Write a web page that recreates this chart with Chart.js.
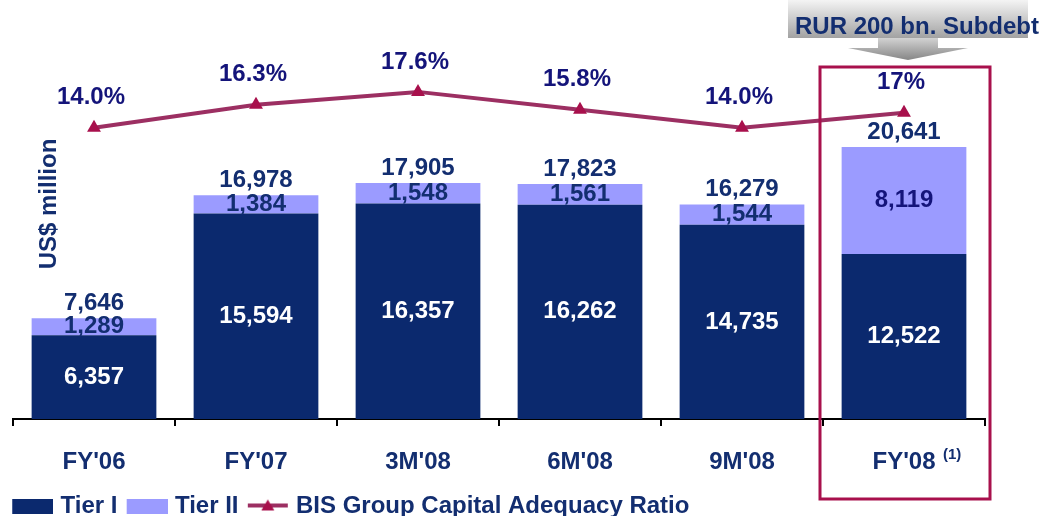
<!DOCTYPE html>
<html>
<head>
<meta charset="utf-8">
<script src="https://cdn.jsdelivr.net/npm/chart.js@4.4.1/dist/chart.umd.min.js"></script>
<style>
  body { margin: 0; background: #fff; }
  #wrap { width: 1042px; height: 516px; position: relative; }
</style>
</head>
<body>
<div id="wrap"><canvas id="chart"></canvas></div>
<script>
// data
const categories = ["FY'06", "FY'07", "3M'08", "6M'08", "9M'08", "FY'08"];
const tier1 = [6357, 15594, 16357, 16262, 14735, 12522];
const tier2 = [1289, 1384, 1548, 1561, 1544, 8119];
const bisRatio = [14.0, 16.3, 17.6, 15.8, 14.0, 15.5];
const bisLabels = ['14.0%', '16.3%', '17.6%', '15.8%', '14.0%', '17%'];

const NAVY = '#0B296E';
const TEXT = '#132E70';
const BLUE = '#14147A';
const LAVENDER = '#9B9BFF';
const LINE = '#9C2F62';
const MARKER = '#A8104C';
const FONT = '"Liberation Sans", Arial, sans-serif';

Chart.defaults.font.family = FONT;
Chart.defaults.font.weight = 'bold';
Chart.defaults.font.size = 24;
Chart.defaults.color = TEXT;

const fmt = n => n.toLocaleString('en-US');

// legend swatches, left margin keeps the gap between items
function swatch(draw) {
  const c = document.createElement('canvas');
  c.width = 51; c.height = 15;
  draw(c.getContext('2d'));
  return c;
}
const navySwatch = swatch(g => { g.fillStyle = NAVY; g.fillRect(10, 0, 41, 15); });
const lavSwatch = swatch(g => { g.fillStyle = LAVENDER; g.fillRect(10, 0, 41, 15); });
const lineSwatch = swatch(g => {
  g.fillStyle = LINE; g.fillRect(10, 5, 40, 4);
  g.fillStyle = MARKER;
  g.beginPath(); g.moveTo(30, 1); g.lineTo(36.5, 12); g.lineTo(23.5, 12); g.closePath(); g.fill();
});

const labelPlugin = {
  id: 'valueLabels',
  afterDatasetsDraw(chart) {
    const ctx = chart.ctx;
    const m1 = chart.getDatasetMeta(0);
    const m2 = chart.getDatasetMeta(1);
    const m3 = chart.getDatasetMeta(2);
    ctx.save();
    ctx.font = 'bold 24px ' + FONT;
    ctx.textAlign = 'center';
    ctx.textBaseline = 'middle';
    categories.forEach((c, i) => {
      const b1 = m1.data[i], b2 = m2.data[i], p = m3.data[i];
      ctx.fillStyle = '#fff';
      ctx.fillText(fmt(tier1[i]), b1.x, (b1.y + b1.base) / 2);
      ctx.fillStyle = i === 5 ? BLUE : TEXT;
      ctx.fillText(fmt(tier2[i]), b2.x, (b2.y + b2.base) / 2);
      ctx.fillStyle = TEXT;
      ctx.fillText(fmt(tier1[i] + tier2[i]), b2.x, b2.y - 15);
      ctx.fillStyle = BLUE;
      ctx.fillText(bisLabels[i], p.x - 3, p.y - 30);
    });
    ctx.restore();
  }
};

const decorPlugin = {
  id: 'decor',
  afterDraw(chart) {
    const ctx = chart.ctx;
    const x = chart.scales.x;
    const area = chart.chartArea;
    const cx = x.getPixelForValue(5);
    ctx.save();

    // box round FY'08
    ctx.strokeStyle = MARKER;
    ctx.lineWidth = 3;
    ctx.strokeRect(cx - 84, area.top + 17, 170, 432);

    // grey arrow banner
    const bx = cx + 4;
    const top = ctx.createLinearGradient(0, 0, 0, 38);
    top.addColorStop(0, '#f4f4f4');
    top.addColorStop(1, '#a2a2a2');
    ctx.fillStyle = top;
    ctx.fillRect(bx - 120, 0, 240, 38);
    const arrow = ctx.createLinearGradient(0, 38, 0, 60);
    arrow.addColorStop(0, '#d2d2d2');
    arrow.addColorStop(1, '#868686');
    ctx.fillStyle = arrow;
    ctx.beginPath();
    ctx.moveTo(bx - 30, 38); ctx.lineTo(bx + 30, 38); ctx.lineTo(bx + 30, 48);
    ctx.lineTo(bx + 60, 48); ctx.lineTo(bx, 60); ctx.lineTo(bx - 60, 48);
    ctx.lineTo(bx - 30, 48); ctx.closePath();
    ctx.fill();
    ctx.fillStyle = TEXT;
    ctx.font = 'bold 24px ' + FONT;
    ctx.textAlign = 'center';
    ctx.textBaseline = 'middle';
    ctx.fillText('RUR 200 bn. Subdebt', bx + 9, 27);

    // footnote mark after FY'08
    ctx.font = 'bold 15px ' + FONT;
    ctx.textAlign = 'left';
    ctx.fillText('(1)', cx + 39, 455);

    // y title
    ctx.translate(area.left + 36, area.top + 154);
    ctx.rotate(-Math.PI / 2);
    ctx.font = 'bold 24px ' + FONT;
    ctx.textAlign = 'center';
    ctx.fillText('US$ million', 0, 0);
    ctx.restore();
  }
};

new Chart(document.getElementById('chart'), {
  type: 'bar',
  data: {
    labels: categories,
    datasets: [
      { label: 'Tier I', data: tier1, backgroundColor: NAVY, stack: 'cap', barPercentage: 0.77, categoryPercentage: 1 },
      { label: 'Tier II', data: tier2, backgroundColor: LAVENDER, stack: 'cap', barPercentage: 0.77, categoryPercentage: 1 },
      {
        type: 'line', label: 'BIS Group Capital Adequacy Ratio', data: bisRatio, yAxisID: 'y2', order: -1,
        borderColor: LINE, borderWidth: 4, tension: 0,
        pointStyle: 'triangle', pointRadius: 8, pointBackgroundColor: MARKER, pointBorderColor: MARKER, pointBorderWidth: 0
      }
    ]
  },
  options: {
    responsive: true,
    maintainAspectRatio: false,
    animation: false,
    layout: { padding: { left: 3, right: 57, top: 50, bottom: -12 } },
    plugins: {
      tooltip: { enabled: false },
      legend: {
        position: 'bottom',
        align: 'start',
        labels: {
          usePointStyle: true,
          pointStyleWidth: 41.5,
          padding: 4,
          color: TEXT,
          font: { size: 24, weight: 'bold' },
          generateLabels: () => [
            { text: 'Tier I', pointStyle: navySwatch, datasetIndex: 0, fontColor: TEXT },
            { text: 'Tier II', pointStyle: lavSwatch, datasetIndex: 1, fontColor: TEXT },
            { text: 'BIS Group Capital Adequacy Ratio', pointStyle: lineSwatch, datasetIndex: 2, fontColor: TEXT }
          ]
        }
      }
    },
    scales: {
      x: {
        stacked: true,
        grid: { display: true, offset: true, drawOnChartArea: false, drawTicks: true, tickLength: 7, color: '#000', lineWidth: 2 },
        border: { display: true, color: '#000', width: 2 },
        ticks: { color: TEXT, font: { size: 24, weight: 'bold' }, padding: 22, maxRotation: 0 },
        afterFit: s => { s.height = 71; }
      },
      y: {
        stacked: true, min: 0, max: 28000,
        display: true,
        grid: { display: false }, border: { display: false }, ticks: { display: false },
        afterFit: s => { s.width = 10; }
      },
      y2: {
        min: -15.2, max: 21.8, display: false
      }
    }
  },
  plugins: [labelPlugin, decorPlugin]
});
</script>
</body>
</html>
